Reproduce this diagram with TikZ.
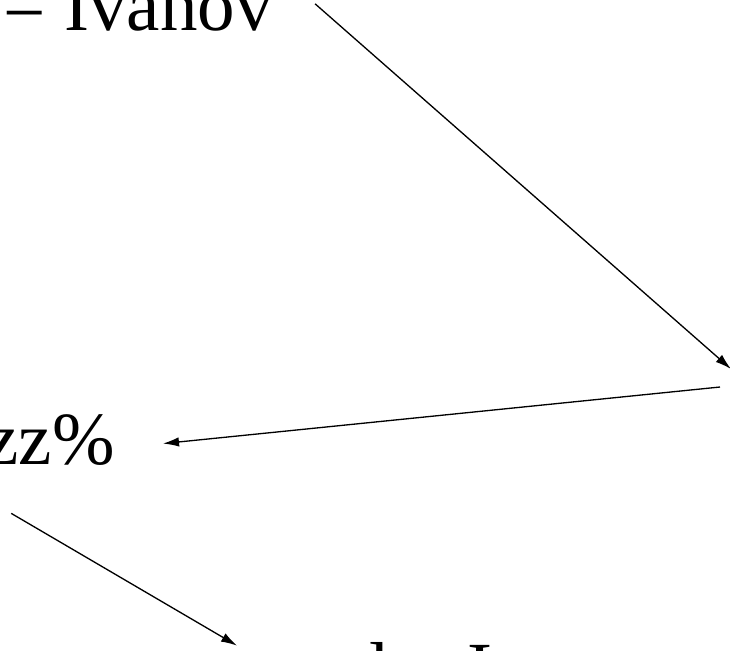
\documentclass[tikz,border=0pt]{standalone}
\usepackage{fontspec}
\setmainfont{Liberation Serif}
\usetikzlibrary{arrows.meta,calc}

\begin{document}
\begin{tikzpicture}[x=0.02cm,y=-0.02cm,>={Latex[length=0.32cm,width=0.19cm]},
  lbl/.style={inner sep=0pt,font=\fontsize{42.7}{51}\selectfont},
  link/.style={->,line width=0.75pt}]
\useasboundingbox (0,0) rectangle (730,650);

\node[lbl,anchor=base west] (ivanov) at (3,30) {= Ivanov};
\node[lbl,anchor=base east] (zz) at (115,464) {zz\%};
\node[lbl,anchor=base west] (bottom) at (350,694) {d = I};

% the next box lies to the right, off the page
\coordinate (rin) at (731,369);
\coordinate (rout) at (720,387);

\draw[link] ($(ivanov.east)+(42,-2)$) -- (rin);
\draw[link] (rout) -- ($(zz.east)+(48,4)$);
\draw[link] ($(zz.south west)+(26,48)$) -- ($(bottom.north west)+(-113,4)$);
\end{tikzpicture}
\end{document}
